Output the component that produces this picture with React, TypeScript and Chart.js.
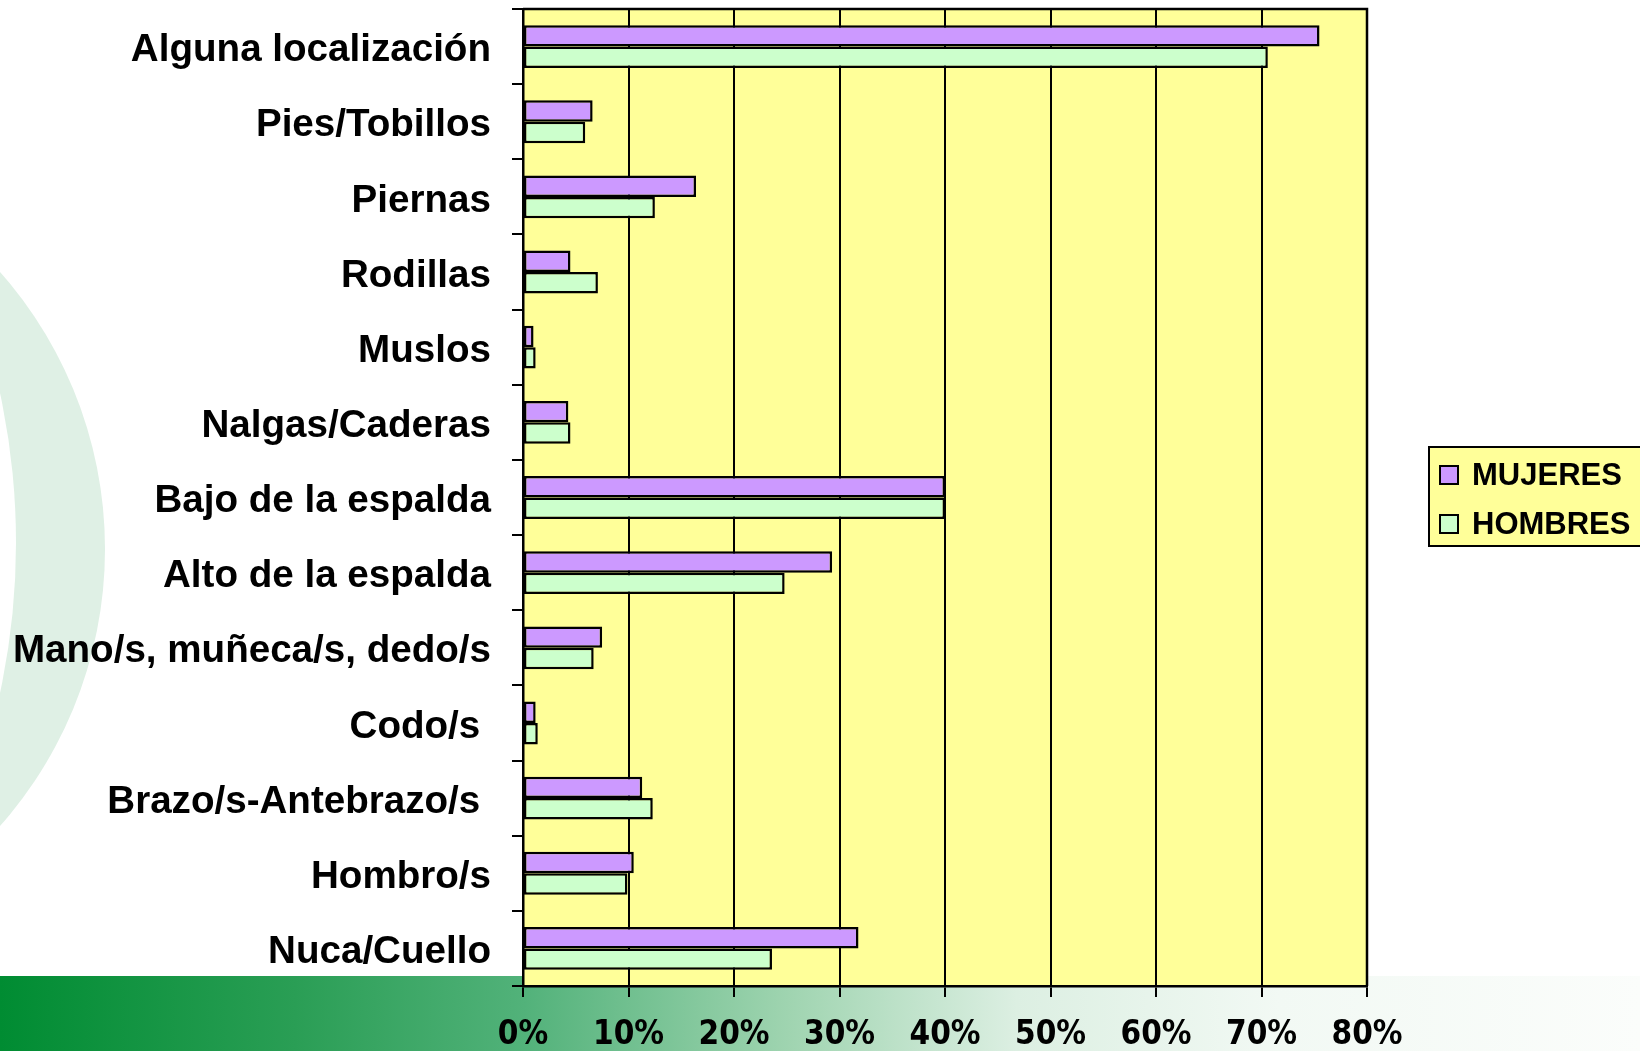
import React, { useEffect, useRef } from "react";
import { Chart, registerables } from "chart.js";

Chart.register(...registerables);

const categories = [
  "Alguna localización",
  "Pies/Tobillos",
  "Piernas",
  "Rodillas",
  "Muslos",
  "Nalgas/Caderas",
  "Bajo de la espalda",
  "Alto de la espalda",
  "Mano/s, muñeca/s, dedo/s",
  "Codo/s ",
  "Brazo/s-Antebrazo/s ",
  "Hombro/s",
  "Nuca/Cuello",
];

const mujeres = [75.5, 6.6, 16.4, 4.5, 1.0, 4.3, 40.0, 29.3, 7.5, 1.2, 11.3, 10.5, 31.8];
const hombres = [70.6, 5.9, 12.5, 7.1, 1.2, 4.5, 40.0, 24.8, 6.7, 1.4, 12.3, 9.9, 23.6];

const seriesLabels = ["MUJERES", "HOMBRES"];
const seriesColors = ["#CC99FF", "#CCFFCC"];
const xTickLabels = ["0%", "10%", "20%", "30%", "40%", "50%", "60%", "70%", "80%"];

const W = 1640;
const H = 1051;

const plotBgPlugin = {
  id: "plotBg",
  beforeDraw(chart: any) {
    const { ctx, chartArea } = chart;
    ctx.save();
    ctx.fillStyle = "#FFFF99";
    ctx.fillRect(chartArea.left, chartArea.top, chartArea.right - chartArea.left, chartArea.bottom - chartArea.top);
    ctx.restore();
  },
  afterDatasetsDraw(chart: any) {
    const { ctx, chartArea } = chart;
    ctx.save();
    ctx.strokeStyle = "#000";
    ctx.lineWidth = 2.5;
    ctx.beginPath();
    ctx.moveTo(chartArea.left, chartArea.top);
    ctx.lineTo(chartArea.right, chartArea.top);
    ctx.lineTo(chartArea.right, chartArea.bottom);
    ctx.stroke();
    ctx.restore();
  },
};

const boxLegendPlugin = {
  id: "boxLegend",
  afterDraw(chart: any) {
    const { ctx } = chart;
    ctx.save();
    ctx.fillStyle = "#FFFF99";
    ctx.fillRect(1429, 447, 230, 99);
    ctx.strokeStyle = "#000";
    ctx.lineWidth = 2;
    ctx.strokeRect(1429, 447, 230, 99);
    chart.data.datasets.forEach((ds: any, i: number) => {
      const cy = 475 + i * 49;
      ctx.fillStyle = ds.backgroundColor;
      ctx.fillRect(1440, cy - 9, 18, 18);
      ctx.lineWidth = 2;
      ctx.strokeStyle = "#000";
      ctx.strokeRect(1440, cy - 9, 18, 18);
      ctx.fillStyle = "#000";
      ctx.font = 'bold 31px "Liberation Sans", Arial, sans-serif';
      ctx.textBaseline = "middle";
      ctx.textAlign = "left";
      ctx.fillText(ds.label, 1472, cy + 1);
    });
    ctx.restore();
  },
};

export default function App() {
  const canvasRef = useRef<HTMLCanvasElement | null>(null);

  useEffect(() => {
    const canvas = canvasRef.current;
    if (!canvas) return;
    const chart = new Chart(canvas, {
      type: "bar",
      data: {
        labels: categories,
        datasets: [
          {
            label: seriesLabels[0],
            data: mujeres,
            backgroundColor: seriesColors[0],
            borderColor: "#000",
            borderWidth: 2.5,
            borderSkipped: false,
            categoryPercentage: 0.57,
            barPercentage: 1,
          },
          {
            label: seriesLabels[1],
            data: hombres,
            backgroundColor: seriesColors[1],
            borderColor: "#000",
            borderWidth: 2.5,
            borderSkipped: false,
            categoryPercentage: 0.57,
            barPercentage: 1,
          },
        ],
      },
      options: {
        indexAxis: "y",
        responsive: false,
        animation: false,
        layout: { padding: { top: 9, right: 273, bottom: 0, left: 0 } },
        plugins: {
          legend: { display: false },
          tooltip: { enabled: false },
        },
        scales: {
          x: {
            type: "linear",
            min: 0,
            max: 80,
            ticks: {
              stepSize: 10,
              color: "#000",
              padding: 22,
              font: {
                family: '"Liberation Sans Narrow", "DejaVu Sans Condensed", "Liberation Sans", sans-serif',
                size: 33,
                weight: "bold",
                lineHeight: 1,
              },
              callback: (_v: any, i: number) => xTickLabels[i],
            },
            grid: { color: "#000", lineWidth: 2, tickLength: 11, drawTicks: true },
            border: { color: "#000", width: 2.5 },
            afterFit: (s: any) => {
              s.height = 65;
            },
          },
          y: {
            type: "category",
            ticks: {
              color: "#000",
              padding: 21,
              labelOffset: 4,
              autoSkip: false,
              font: {
                family: '"Liberation Sans", Arial, sans-serif',
                size: 38.6,
                weight: "bold",
              },
            },
            grid: {
              drawOnChartArea: false,
              drawTicks: true,
              color: "#000",
              lineWidth: 2,
              tickLength: 11,
              offset: true,
            },
            border: { color: "#000", width: 2.5 },
            afterFit: (s: any) => {
              s.width = 523;
              s.paddingTop = 0;
              s.paddingBottom = 0;
            },
          },
        },
      } as any,
      plugins: [plotBgPlugin, boxLegendPlugin],
    });
    return () => chart.destroy();
  }, []);

  return (
    <div
      style={{
        position: "absolute",
        left: 0,
        top: 0,
        width: W,
        height: H,
        overflow: "hidden",
        background: "#fff",
      }}
    >
      <div
        style={{
          position: "absolute",
          left: -731,
          top: 131,
          width: 836,
          height: 836,
          borderRadius: "50%",
          background: "#dff0e5",
        }}
      />
      <div
        style={{
          position: "absolute",
          left: -1406,
          top: -168,
          width: 1422,
          height: 1422,
          borderRadius: "50%",
          background: "#fff",
        }}
      />
      <div
        style={{
          position: "absolute",
          left: 0,
          top: 976,
          width: W,
          height: H - 976,
          background:
            "linear-gradient(to right, #008c32 0%, #2a9e55 18%, #52b27a 32%, #9fd4b0 48%, #dcefe2 62%, #f2f9f4 78%, #fbfdfb 100%)",
        }}
      />
      <canvas
        ref={canvasRef}
        width={W}
        height={H}
        style={{ position: "absolute", left: 0, top: 0, width: W, height: H, display: "block" }}
      />
    </div>
  );
}
